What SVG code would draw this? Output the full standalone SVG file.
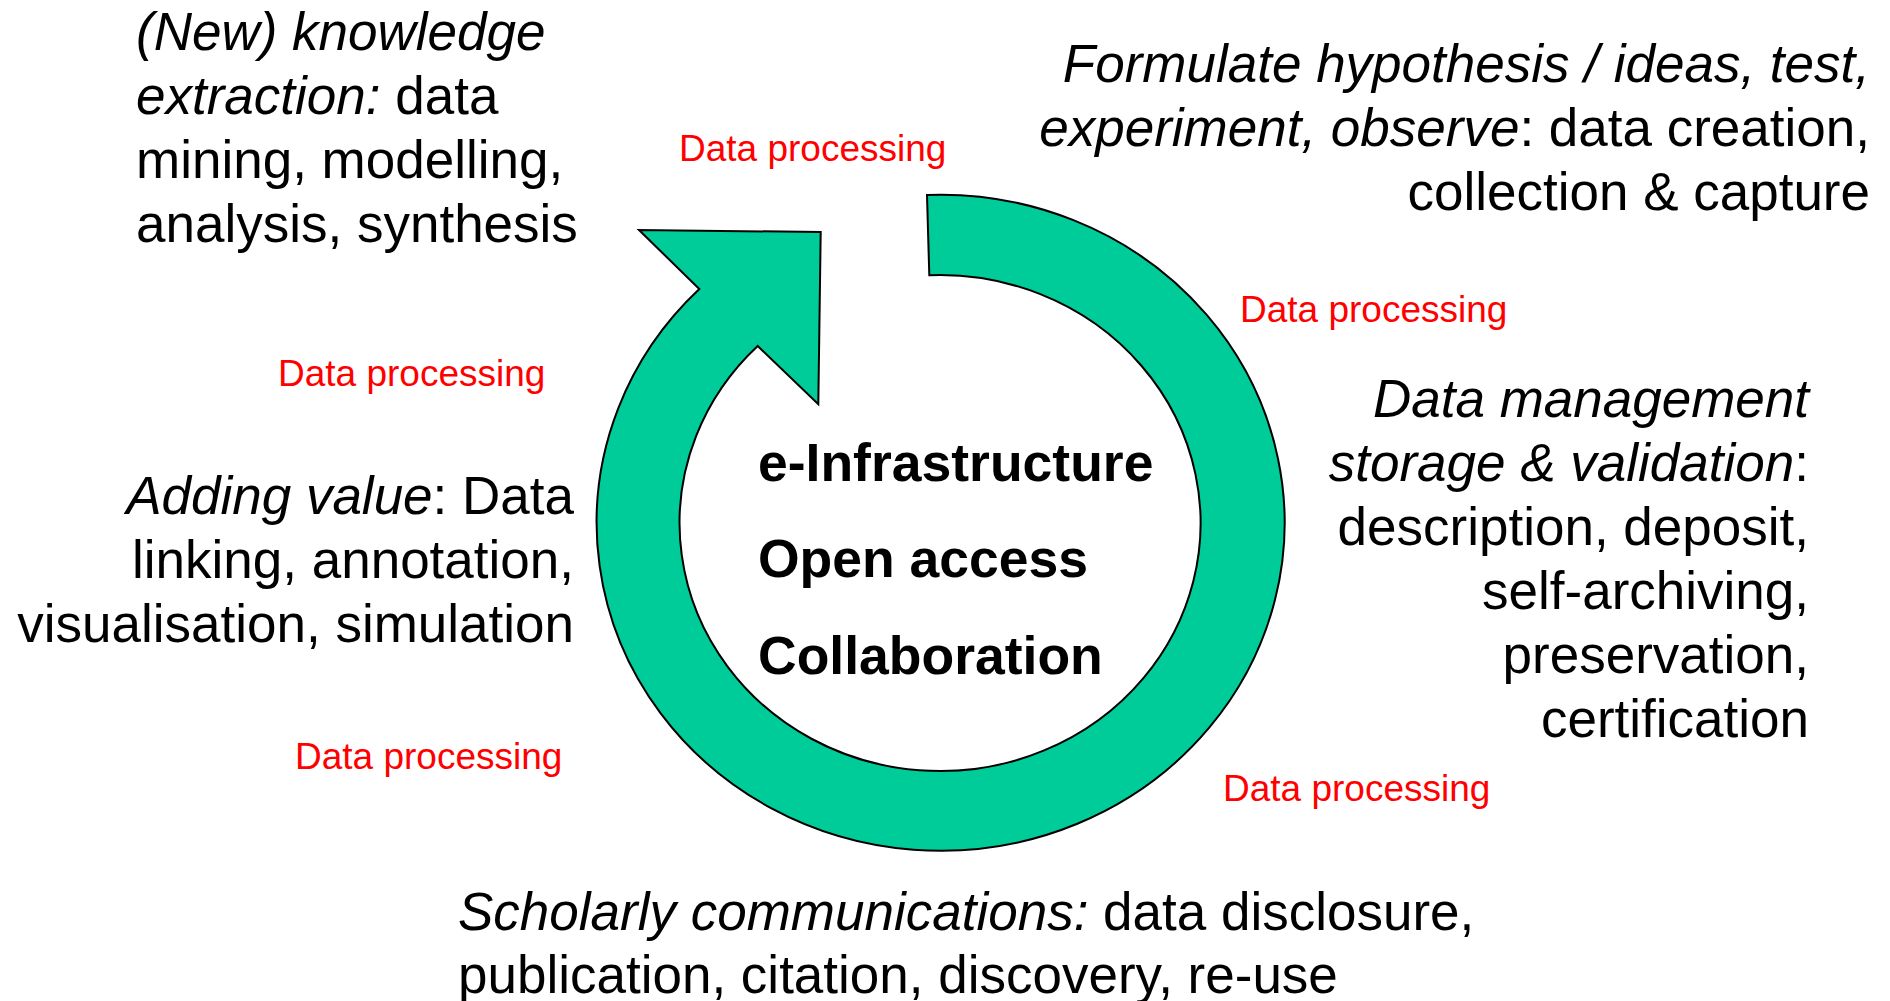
<svg xmlns="http://www.w3.org/2000/svg" width="1890" height="1001" viewBox="0 0 1890 1001">
<style>
.t{font-family:"Liberation Sans",Arial,sans-serif;font-size:53px;fill:#000}
.i{font-style:italic}
.b{font-family:"Liberation Sans",Arial,sans-serif;font-size:53.5px;font-weight:bold;fill:#000}
.dp{font-family:"Liberation Sans",Arial,sans-serif;font-size:37px;fill:#FF0000}
.ring{fill:#00CC99;stroke:#000;stroke-width:2;stroke-linejoin:miter}
</style>
<rect width="1890" height="1001" fill="#fff"/>
<g id="connectors">
<path class="ring" d="M927,195 A344,328 0 1 1 699.3,289 L639,230 L820.7,232 L818.3,404.3 L757.7,346 A260.5,248 0 1 0 929.3,275.3 Z"/>
</g>
<g id="center">
<text class="b" x="758" y="481">e-Infrastructure</text>
<text class="b" x="758" y="577">Open access</text>
<text class="b" x="758" y="674">Collaboration</text>
</g>
<g id="knowledge-extraction">
<text class="t" x="136" y="50"><tspan class="i">(New) knowledge</tspan></text>
<text class="t" x="136" y="114"><tspan class="i">extraction:</tspan> data</text>
<text class="t" x="136" y="178">mining, modelling,</text>
<text class="t" x="136" y="242">analysis, synthesis</text>
</g>
<g id="formulate">
<text class="t" x="1870" y="82" text-anchor="end"><tspan class="i">Formulate hypothesis / ideas, test,</tspan></text>
<text class="t" x="1870" y="146" text-anchor="end"><tspan class="i">experiment, observe</tspan>: data creation,</text>
<text class="t" x="1870" y="210" text-anchor="end">collection &amp; capture</text>
</g>
<g id="data-management">
<text class="t" x="1809" y="417" text-anchor="end"><tspan class="i">Data management</tspan></text>
<text class="t" x="1809" y="481" text-anchor="end"><tspan class="i">storage &amp; validation</tspan>:</text>
<text class="t" x="1809" y="545" text-anchor="end">description, deposit,</text>
<text class="t" x="1809" y="609" text-anchor="end">self-archiving,</text>
<text class="t" x="1809" y="673" text-anchor="end">preservation,</text>
<text class="t" x="1809" y="737" text-anchor="end">certification</text>
</g>
<g id="adding-value">
<text class="t" x="574" y="514" text-anchor="end"><tspan class="i">Adding value</tspan>: Data</text>
<text class="t" x="574" y="578" text-anchor="end">linking, annotation,</text>
<text class="t" x="574" y="642" text-anchor="end">visualisation, simulation</text>
</g>
<g id="scholarly">
<text class="t" x="458" y="930"><tspan class="i">Scholarly communications:</tspan> data disclosure,</text>
<text class="t" x="458" y="993">publication, citation, discovery, re-use</text>
</g>
<g id="labels">
<text class="dp" x="679" y="161">Data processing</text>
<text class="dp" x="1240" y="322">Data processing</text>
<text class="dp" x="278" y="386">Data processing</text>
<text class="dp" x="295" y="769">Data processing</text>
<text class="dp" x="1223" y="801">Data processing</text>
</g>
</svg>
